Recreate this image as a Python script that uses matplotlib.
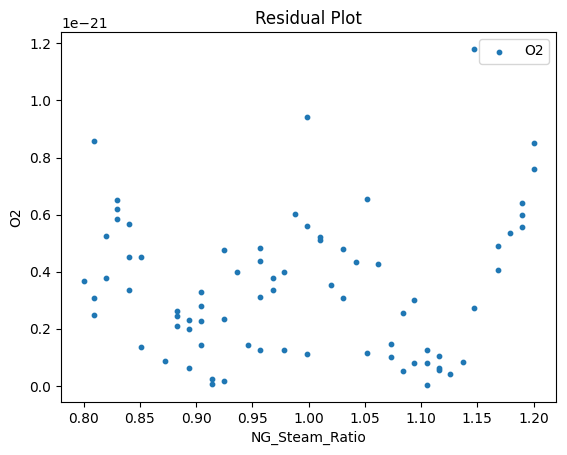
import numpy as np
import matplotlib
matplotlib.use('Agg')
import matplotlib.pyplot as plt

# NG_Steam_Ratio values and O2 residuals (in units of 1e-21)
ng_steam_ratio = [
    0.809, 0.830, 0.830, 0.830, 0.840, 0.820, 0.925, 0.840, 0.851, 0.800,
    0.820, 0.840, 0.809, 0.809, 0.904, 0.904, 0.883, 0.883, 0.894, 0.904,
    0.883, 0.894, 0.925, 0.851, 0.904, 0.872, 0.894, 0.914, 0.914, 0.925,
    0.999, 1.052, 0.988, 0.999, 1.010, 1.010, 0.957, 0.957, 1.031, 1.042,
    1.062, 0.936, 0.978, 0.968, 0.968, 0.957, 1.020, 1.031, 0.946, 0.957,
    0.978, 0.999, 1.052,
    1.147, 1.200, 1.200, 1.190, 1.190, 1.190, 1.179, 1.168, 1.168, 1.147,
    1.094, 1.084, 1.073, 1.073, 1.084, 1.094, 1.105, 1.105, 1.105, 1.116,
    1.116, 1.116, 1.126, 1.137,
]
o2_residual = [
    0.859, 0.652, 0.620, 0.585, 0.567, 0.525, 0.476, 0.452, 0.452, 0.367,
    0.378, 0.336, 0.308, 0.248, 0.329, 0.280, 0.262, 0.245, 0.230, 0.227,
    0.209, 0.199, 0.234, 0.136, 0.143, 0.087, 0.062, 0.024, 0.006, 0.017,
    0.943, 0.655, 0.602, 0.560, 0.522, 0.513, 0.483, 0.437, 0.480, 0.434,
    0.427, 0.399, 0.399, 0.378, 0.336, 0.311, 0.353, 0.308, 0.143, 0.125,
    0.125, 0.111, 0.115,
    1.181, 0.852, 0.760, 0.641, 0.599, 0.557, 0.536, 0.490, 0.406, 0.273,
    0.301, 0.255, 0.146, 0.101, 0.052, 0.080, 0.125, 0.080, 0.003, 0.104,
    0.062, 0.056, 0.041, 0.083,
]

x = np.array(ng_steam_ratio)
y = np.array(o2_residual) * 1e-21

fig = plt.figure(figsize=(5.67, 4.55), dpi=100)
fig.subplots_adjust(left=0.1076, right=0.9806, top=0.9297, bottom=0.1165)
ax = fig.add_subplot(111)
ax.scatter(x, y, s=10, label='O2')
ax.set_title('Residual Plot')
ax.set_xlabel('NG_Steam_Ratio')
ax.set_ylabel('O2')
ax.legend(loc='upper right')
fig.savefig('out.png', dpi=100)
